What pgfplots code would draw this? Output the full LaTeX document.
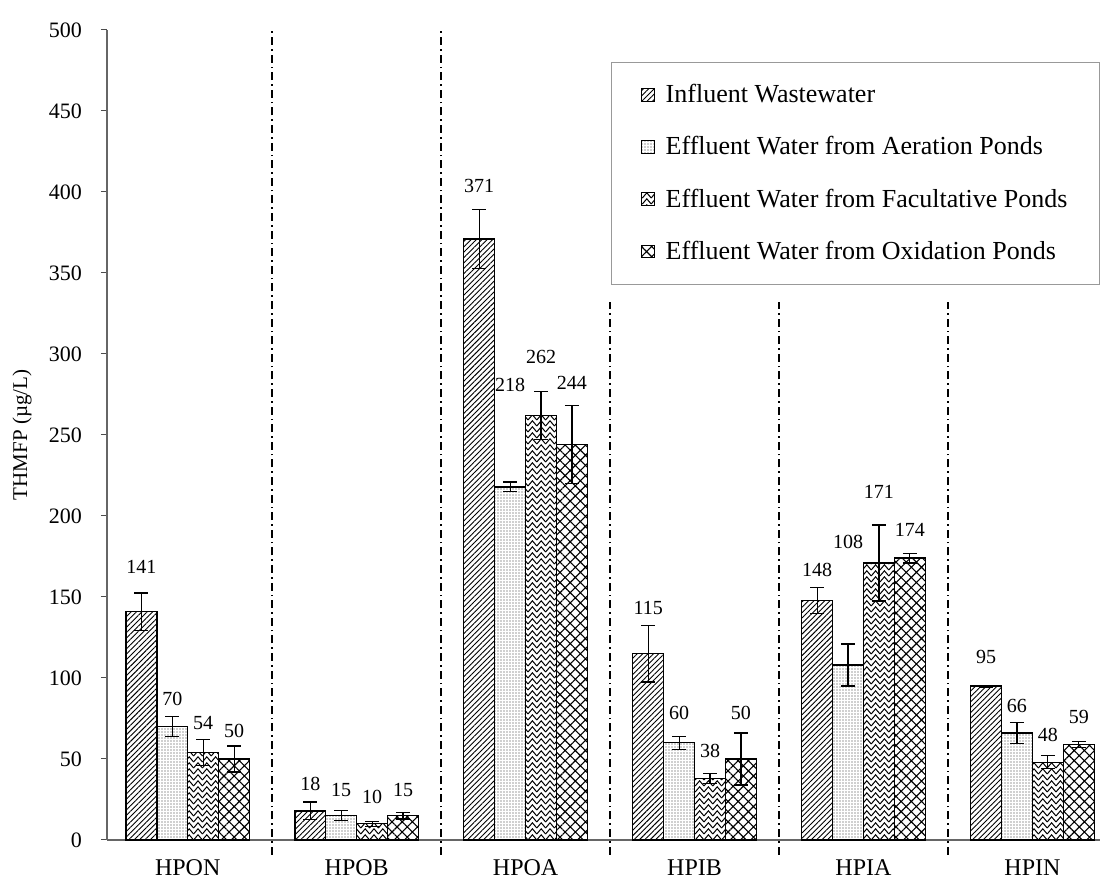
\documentclass[border=0pt]{standalone}
\usepackage{fontspec}
\setmainfont{Liberation Serif}
\usepackage{pgfplots}
\usepackage{pgfplotstable}
\pgfplotsset{compat=1.18}
\usetikzlibrary{patterns,patterns.meta}
\pgfdeclarepatternformonly{zigzag}{\pgfqpoint{-1pt}{-1pt}}{\pgfqpoint{5pt}{4pt}}{\pgfqpoint{4.4pt}{3pt}}{%
  \pgfsetlinewidth{0.5pt}%
  \pgfpathmoveto{\pgfqpoint{0pt}{0pt}}%
  \pgfpathlineto{\pgfqpoint{2.2pt}{2.6pt}}%
  \pgfpathlineto{\pgfqpoint{4.4pt}{0pt}}%
  \pgfusepath{stroke}}

\pgfplotstableread{
x y err ly lab
0 141 11.5 168.5 141
1 18 5.5 34.8 18
2 371 18 404 371
3 115 17.5 143 115
4 148 8 166.5 148
5 95 0.5 113 95
}\tInf
\pgfplotstableread{
x y err ly lab
0 70 6 87.2 70
1 15 3 31 15
2 218 3 281 218
3 60 4 78.2 60
4 108 13 184 108
5 66 6.5 83 66
}\tAer
\pgfplotstableread{
x y err ly lab
0 54 8 72.2 54
1 10 1.5 26.7 10
2 262 15 298 262
3 38 3 54.9 38
4 171 23.5 215 171
5 48 4 64.8 48
}\tFac
\pgfplotstableread{
x y err ly lab
0 50 8 67.2 50
1 15 2 31 15
2 244 24 282 244
3 50 16 78.4 50
4 174 3 191.7 174
5 59 2 76 59
}\tOxi

\begin{document}
\begin{tikzpicture}
\begin{axis}[
  scale only axis, width=496.5pt, height=405pt,
  xmin=-0.478, xmax=5.40, ymin=0, ymax=500,
  axis x line*=bottom, axis y line*=left,
  ytick={0,50,...,500},
  xtick={0,...,5}, xticklabels={HPON,HPOB,HPOA,HPIB,HPIA,HPIN},
  x tick style={draw=none},
  tick align=outside, major tick length=3pt,
  y tick style={black!70, line width=0.5pt},
  axis line style={black!60, line width=0.6pt},
  /pgf/number format/assume math mode=true,
  yticklabel style={font=\fontsize{11}{13}\selectfont, xshift=-6pt},
  xticklabel style={font=\fontsize{12}{14}\selectfont, yshift=-3.5pt},
  ylabel={THMFP (µg/L)},
  every axis y label/.style={at={(axis description cs:-0.0856,0.5)}, rotate=90, anchor=center, font=\fontsize{10.5}{12}\selectfont},
  clip=false,
  legend cell align=left,
  legend image code/.code={\draw[#1, line width=0.5pt] (0pt,-3.2pt) rectangle (6.4pt,3.2pt);},
  legend style={at={(1,0.9605)}, anchor=north east, draw=black!40, line width=0.5pt,
    font=\fontsize{13}{15}\selectfont, inner xsep=14.5pt, inner ysep=9pt, row sep=11.4pt,
    nodes={inner xsep=1.5pt, inner ysep=2pt},
    /tikz/every odd column/.append style={column sep=4pt}},
  bar width=0.183,
  error bars/error bar style={black, line width=0.6pt, solid},
  error bars/error mark options={rotate=90, mark size=3.5pt, line width=0.6pt, black},
  nodes near coords style={anchor=center, text=black, font=\fontsize{10}{12}\selectfont, inner sep=0pt},
]
\addplot[ybar, bar shift=0, draw=black, line width=0.7pt,
  pattern={Lines[angle=45,distance=1.9pt,line width=0.45pt]},
  error bars/.cd, y dir=both, y explicit]
  table[x expr=\thisrow{x}-0.2745, y=y, y error=err]{\tInf};
\addplot[ybar, bar shift=0, draw=black, line width=0.7pt,
  pattern={Dots[distance=1.5pt,radius=0.32pt]}, pattern color=black!80,
  error bars/.cd, y dir=both, y explicit]
  table[x expr=\thisrow{x}-0.0915, y=y, y error=err]{\tAer};
\addplot[ybar, bar shift=0, draw=black, line width=0.7pt,
  pattern=zigzag,
  error bars/.cd, y dir=both, y explicit]
  table[x expr=\thisrow{x}+0.0915, y=y, y error=err]{\tFac};
\addplot[ybar, bar shift=0, draw=black, line width=0.7pt,
  pattern={Hatch[angle=45,distance=3.6pt,line width=0.55pt]},
  error bars/.cd, y dir=both, y explicit]
  table[x expr=\thisrow{x}+0.2745, y=y, y error=err]{\tOxi};
\legend{Influent Wastewater, Effluent Water from Aeration Ponds, Effluent Water from Facultative Ponds, Effluent Water from Oxidation Ponds}

\addplot[draw=none, forget plot, nodes near coords, point meta=explicit symbolic]
  table[x expr=\thisrow{x}-0.2745, y=ly, meta=lab]{\tInf};
\addplot[draw=none, forget plot, nodes near coords, point meta=explicit symbolic]
  table[x expr=\thisrow{x}-0.0915, y=ly, meta=lab]{\tAer};
\addplot[draw=none, forget plot, nodes near coords, point meta=explicit symbolic]
  table[x expr=\thisrow{x}+0.0915, y=ly, meta=lab]{\tFac};
\addplot[draw=none, forget plot, nodes near coords, point meta=explicit symbolic]
  table[x expr=\thisrow{x}+0.2745, y=ly, meta=lab]{\tOxi};

\tikzset{sep/.style={black, line width=0.8pt, dash pattern=on 4pt off 2pt on 0.8pt off 2pt}}
\draw[sep] (axis cs:0.5,-9) -- (axis cs:0.5,500);
\draw[sep] (axis cs:1.5,-9) -- (axis cs:1.5,500);
\draw[sep] (axis cs:2.5,-9) -- (axis cs:2.5,332);
\draw[sep] (axis cs:3.5,-9) -- (axis cs:3.5,332);
\draw[sep] (axis cs:4.5,-9) -- (axis cs:4.5,332);
\end{axis}
\pgfresetboundingbox
\path (-53.5pt,-24pt) rectangle (501.5pt,420pt);
\end{tikzpicture}
\end{document}
